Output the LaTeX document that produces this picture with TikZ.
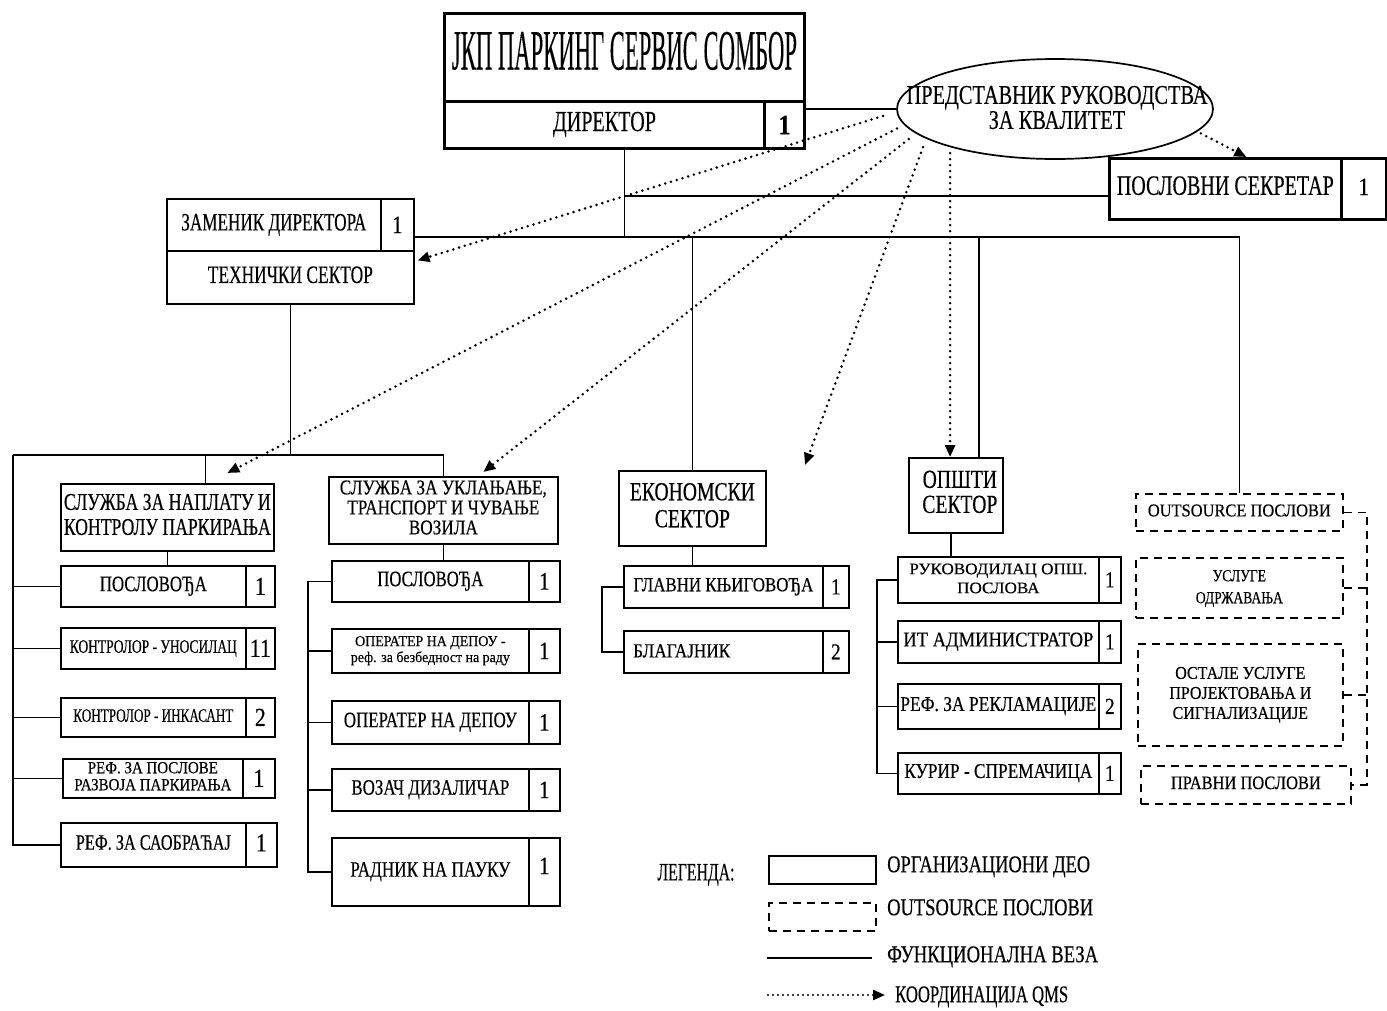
\documentclass[tikz,border=0pt]{standalone}
\usepackage{fontspec}
\setmainfont{Liberation Serif}[FakeBold=0.35]
\usepackage{graphicx}
\usetikzlibrary{shapes.geometric,arrows.meta,calc}
\newcommand\lb[4]{\resizebox{#1pt}{\height}{\fontsize{#2pt}{#3pt}\selectfont\begin{tabular}{@{}c@{}}#4\end{tabular}}}
\newcommand\nm[2]{\scalebox{0.85}[1]{\fontsize{#1pt}{#1pt}\selectfont #2}}
\newcommand\mybox[7][box]{\node[#1,minimum width={(#4-#2)*1pt},minimum height={(#5-#3)*1pt}] (#6) at (#2,#3) {#7};}
\newcommand\myitem[8]{\mybox{#1}{#2}{#3}{#5}{#6}{#7}\mybox{#3}{#2}{#4}{#5}{#6n}{#8}}
\begin{document}
\begin{tikzpicture}[x=1pt,y=-1pt,
  box/.style={draw, line width=1.7pt, inner sep=0pt, anchor=north west},
  tbox/.style={box, line width=3pt},
  sbox/.style={box, line width=2.6pt},
  dbox/.style={box, dash pattern=on 8pt off 6pt},
  ln/.style={line width=1.6pt},
  dl/.style={line width=1.6pt, dash pattern=on 8pt off 6pt},
  qms/.style={line width=2.8pt, line cap=round, dash pattern=on 0pt off 6pt, -{Triangle[length=12pt,width=10pt]}},
  txt/.style={inner sep=0pt}]
\fill[white] (0,0) rectangle (1387,1010);
\useasboundingbox (0,0) rectangle (1387,1010);

% top
\mybox[tbox]{443}{12}{803}{100}{jkp}{\lb{345}{57}{60}{ЈКП ПАРКИНГ СЕРВИС СОМБОР}}
\mybox[tbox]{443}{100}{763}{147}{dir}{\lb{103}{29}{30}{ДИРЕКТОР}}
\mybox[tbox]{763}{100}{803}{147}{dirn}{\nm{28}{\bfseries 1}}
\coordinate (jtop) at (jkp.south |- dir.south);

\node[draw, ellipse, line width=1.7pt, minimum width=316pt, minimum height=100pt, inner sep=0pt] (ell) at (1055,109) {};
\node[txt] (ellt) at (1057,111) {\lb{301}{27}{24}{ПРЕДСТАВНИК РУКОВОДСТВА\\ЗА КВАЛИТЕТ}};
\draw[ln] (dirn.east |- ell.west) -- (ell.west);

\mybox[sbox]{1108}{157}{1340}{218}{sec}{\lb{217}{28}{30}{ПОСЛОВНИ СЕКРЕТАР}}
\mybox[sbox]{1340}{157}{1385}{218}{secn}{\raisebox{4pt}{\nm{25}{1}}}

\myitem{166}{198}{380}{413}{250}{zam}{\lb{185}{25}{28}{ЗАМЕНИК ДИРЕКТОРА}}{\nm{25}{1}}
\mybox{166}{250}{413}{303}{tech}{\lb{165}{25}{28}{ТЕХНИЧКИ СЕКТОР}}

% column 1
\mybox{60}{483}{273}{550}{s1}{\lb{207}{24}{25}{СЛУЖБА ЗА НАПЛАТУ И\\КОНТРОЛУ ПАРКИРАЊА}}
\myitem{60}{565}{245}{274}{606}{l1}{\lb{107}{22}{24}{ПОСЛОВОЂА}}{\nm{26}{1}}
\myitem{60}{627}{245}{274}{668}{l2}{\lb{167}{19}{22}{КОНТРОЛОР - УНОСИЛАЦ}}{\nm{26}{11}}
\myitem{60}{697}{245}{274}{736}{l3}{\lb{160}{19}{22}{КОНТРОЛОР - ИНКАСАНТ}}{\nm{26}{2}}
\myitem{62}{758}{242}{274}{797}{l4}{\lb{157}{17}{17}{РЕФ. ЗА ПОСЛОВЕ\\РАЗВОЈА ПАРКИРАЊА}}{\nm{26}{1}}
\myitem{60}{822}{245}{276}{866}{l5}{\lb{155}{22}{24}{РЕФ. ЗА САОБРАЋАЈ}}{\raisebox{4pt}{\nm{26}{1}}}

% column 2
\mybox{328}{476}{557}{543}{s2}{\lb{207}{21}{20}{СЛУЖБА ЗА УКЛАЊАЊЕ,\\ТРАНСПОРТ И ЧУВАЊЕ\\ВОЗИЛА}}
\myitem{331}{560}{528}{559}{601}{m1}{\lb{106}{22}{24}{ПОСЛОВОЂА}}{\nm{25}{1}}
\myitem{331}{628}{528}{559}{672}{m2}{\lb{159}{15}{16}{ОПЕРАТЕР НА ДЕПОУ -\\реф. за безбедност на раду}}{\nm{25}{1}}
\myitem{331}{700}{528}{559}{743}{m3}{\lb{173}{22}{24}{ОПЕРАТЕР НА ДЕПОУ}}{\nm{25}{1}}
\myitem{331}{768}{528}{559}{810}{m4}{\lb{158}{22}{24}{ВОЗАЧ ДИЗАЛИЧАР}}{\nm{25}{1}}
\myitem{331}{837}{528}{559}{905}{m5}{\lb{160}{22}{24}{РАДНИК НА ПАУКУ}}{\raisebox{12pt}{\nm{25}{1}}}

% column 3
\mybox{618}{470}{765}{545}{econ}{\lb{125}{26}{27}{ЕКОНОМСКИ\\СЕКТОР}}
\myitem{623}{565}{822}{848}{607}{g1}{\lb{180}{20}{22}{ГЛАВНИ КЊИГОВОЂА}}{\nm{23}{1}}
\myitem{623}{630}{822}{848}{672}{g2}{}{\nm{23}{2}}
\node[txt, anchor=west] (g2t) at (633,653) {\lb{97}{20}{22}{БЛАГАЈНИК}};

% column 4
\mybox{908}{457}{1002}{532}{op}{\hspace*{8pt}\lb{75}{26}{25}{ОПШТИ\\СЕКТОР}}
\myitem{897}{556}{1098}{1120}{602}{r1}{\lb{178}{16}{19}{РУКОВОДИЛАЦ ОПШ.\\ПОСЛОВА}}{\nm{23}{1}}
\myitem{897}{620}{1098}{1120}{662}{r2}{\lb{190}{21}{23}{ИТ АДМИНИСТРАТОР}}{\nm{23}{1}}
\myitem{897}{683}{1098}{1120}{728}{r3}{\lb{196}{21}{23}{РЕФ. ЗА РЕКЛАМАЦИЈЕ}}{\nm{23}{2}}
\myitem{897}{752}{1098}{1120}{793}{r4}{\lb{188}{21}{23}{КУРИР - СПРЕМАЧИЦА}}{\nm{23}{1}}

% column 5
\mybox[dbox]{1135}{493}{1342}{530}{out}{\lb{183}{18}{20}{OUTSOURCE ПОСЛОВИ}}
\mybox[dbox]{1135}{557}{1342}{617}{d1}{\lb{87}{17}{22}{УСЛУГЕ\\ОДРЖАВАЊА}}
\mybox[dbox]{1137}{643}{1342}{745}{d2}{\lb{142}{18}{20}{ОСТАЛЕ УСЛУГЕ\\ПРОЈЕКТОВАЊА И\\СИГНАЛИЗАЦИЈЕ}}
\mybox[dbox]{1140}{765}{1350}{803}{d3}{\lb{150}{19}{21}{ПРАВНИ ПОСЛОВИ}}

% main connectors
\coordinate (busL) at (413,237);
\draw[ln] (jtop) -- (jtop |- busL);
\draw[ln] ([yshift=-7pt]sec.west) -- ([yshift=-7pt]sec.west -| jtop);
\draw[ln] (busL) -| (out.north);
\draw[ln] (econ.north) -- (econ.north |- busL);
\draw[ln] ([xshift=23pt]op.north) -- ([xshift=23pt]op.north |- busL);

\coordinate (jL) at (13,455);
\draw[ln] (tech.south) |- (jL);
\draw[ln] (jL) -| (s2.north);
\draw[ln] ([xshift=38pt]s1.north) -- ([xshift=38pt]s1.north |- jL);
\draw[ln] (jL) |- (l5.west);
\foreach \n in {l1,l2,l3,l4} \draw[ln] (\n.west) -- (\n.west -| jL);
\draw[ln] (s1.south) -- (s1.south |- l1.north);

\draw[ln] (s2.south) -- (s2.south |- m1.north);
\draw[ln] (m1.west) -- ++(-23,0) |- (m5.west);
\foreach \n in {m2,m3,m4} \draw[ln] (\n.west) -- ++(-23,0);

\draw[ln] (econ.south) -- (econ.south |- g1.north);
\draw[ln] (g1.west) -- ++(-21,0) |- (g2.west);

\draw[ln] ([xshift=-5pt]op.south) -- ([xshift=-5pt]op.south |- r1.north);
\draw[ln] (r1.west) -- ++(-20,0) |- (r4.west);
\foreach \n in {r2,r3} \draw[ln] (\n.west) -- ++(-20,0);

\draw[dl] (out.east) -- ++(23,0) |- (d3.east);
\foreach \n in {d1,d2} \draw[dl] (\n.east) -- ++(23,0);

% QMS coordination
\coordinate (qd) at (805,465);
\draw[qms, shorten <=14pt, shorten >=3pt] (ell.181) -- ([yshift=16pt]tech.east);
\draw[qms, shorten <=8pt] (ell.186) -- ([xshift=60pt,yshift=10pt]s1.north);
\draw[qms, shorten <=9pt] (ell.190) -- ([xshift=40pt,yshift=4pt]s2.north);
\draw[qms, shorten <=9pt] (ell.193) -- (qd);
\draw[qms, shorten <=6pt] (ell.200) -- (ell.200 |- op.north);
\draw[qms, shorten <=4pt] (ell.-9) -- ([xshift=21pt]sec.north);

% legend
\node[txt] (lgt) at (696,875) {\lb{77}{25}{27}{ЛЕГЕНДА:}};
\mybox{768}{855}{875}{883}{lg1}{}
\mybox[dbox]{768}{902}{875}{930}{lg2}{}
\coordinate (lg3a) at (767,958);
\coordinate (lg3b) at (872,958);
\coordinate (lg4a) at (768,995);
\coordinate (lg4b) at (885,995);
\draw[ln] (lg3a) -- (lg3b);
\draw[qms, line width=2.2pt, dash pattern=on 0pt off 5pt] (lg4a) -- (lg4b);
\node[txt, anchor=west] (lt1) at (887,867) {\lb{203}{24}{26}{ОРГАНИЗАЦИОНИ ДЕО}};
\node[txt, anchor=west] (lt2) at (887,910) {\lb{206}{24}{26}{OUTSOURCE ПОСЛОВИ}};
\node[txt, anchor=west] (lt3) at (887,957) {\lb{211}{24}{26}{ФУНКЦИОНАЛНА ВЕЗА}};
\node[txt, anchor=west] (lt4) at (895,997) {\lb{173}{24}{26}{КООРДИНАЦИЈА QMS}};
\end{tikzpicture}
\end{document}
